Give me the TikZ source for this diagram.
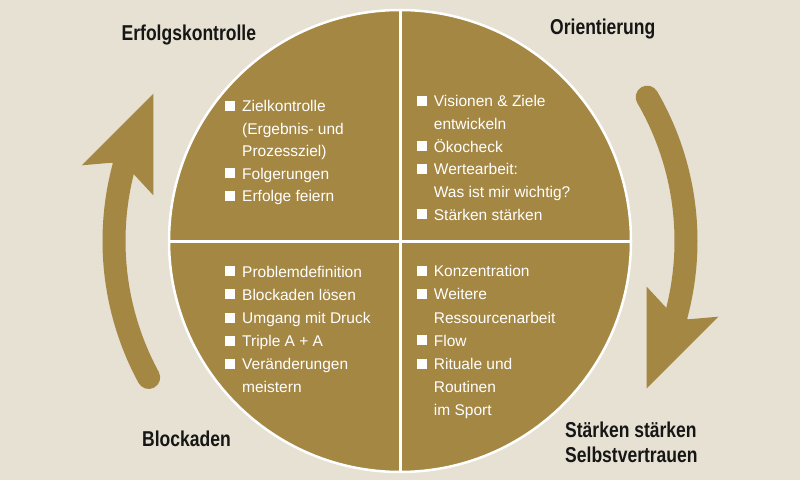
\documentclass[tikz,border=0pt]{standalone}
\usepackage{fontspec}
\setmainfont{Liberation Sans}
\newfontfamily\titlefont[FakeStretch=0.815]{Liberation Sans}
\definecolor{bgbeige}{RGB}{231,225,211}
\definecolor{gold}{RGB}{165,135,68}
\definecolor{titleblack}{RGB}{22,22,22}
\newcommand\bl{\makebox[17pt][l]{\rule[1pt]{10pt}{10pt}}}
\newcommand\ind{\hspace*{17pt}}
\begin{document}
\begin{tikzpicture}[x=1pt,y=1pt,
  titletext/.style={anchor=base west, inner sep=0, text=titleblack,
    font=\titlefont\bfseries\fontsize{21.5}{25}\selectfont, align=left},
  bodytext/.style={anchor=base west, inner sep=0, text=white},
  shaft/.style={draw=gold, line width=23, line cap=round},
  headfill/.style={fill=gold}]
\useasboundingbox (0,0) rectangle (800,480);
\fill[bgbeige] (0,0) rectangle (800,480);

% disc
\node[circle, fill=gold, draw=white, line width=2.5, minimum size=462, inner sep=0] (disc) at (400,239) {};
\draw[white, line width=3] (disc.north) -- (disc.south);
\draw[white, line width=3] (disc.west) -- (disc.east);

% right arrow
\draw[shaft] (disc.center) ++(30.2:286) arc[start angle=30.2, end angle=-17, radius=286];
\fill[headfill] (688.3,160.7) -- (718.3,163.3) -- (646.7,91.7) -- (646.7,193.3) -- (666.7,171.7) -- cycle;

% left arrow (point reflection)
\begin{scope}[rotate around={180:(400,239)}]
\draw[shaft] (disc.center) ++(28.5:286) arc[start angle=28.5, end angle=-17, radius=286];
\fill[headfill] (688.3,160.7) -- (718.3,163.3) -- (646.7,91.7) -- (646.7,193.3) -- (666.7,171.7) -- cycle;
\end{scope}

% titles
\node[titletext] (t1) at (121.5,439.3) {Erfolgskontrolle};
\node[titletext] (t2) at (550,445) {Orientierung};
\node[titletext] (t3) at (142,34) {Blockaden};
\node[titletext] (t4) at (565,43) {\parbox[t]{6cm}{\titlefont\bfseries\fontsize{21.5}{25}\selectfont Stärken stärken\\Selbstvertrauen}};

% quadrant texts
\node[bodytext] (q1) at (225,368.3) {\parbox[t]{6cm}{\fontsize{15.5}{22.5}\selectfont
\bl Zielkontrolle\\
\ind (Ergebnis- und\\
\ind Prozessziel)\\
\bl Folgerungen\\
\bl Erfolge feiern}};

\node[bodytext] (q2) at (416.7,373.3) {\parbox[t]{6cm}{\fontsize{15.5}{22.7}\selectfont
\bl Visionen \& Ziele\\
\ind entwickeln\\
\bl Ökocheck\\
\bl Wertearbeit:\\
\ind Was ist mir wichtig?\\
\bl Stärken stärken}};

\node[bodytext] (q3) at (225,202.7) {\parbox[t]{6cm}{\fontsize{15.5}{23.1}\selectfont
\bl Problemdefinition\\
\bl Blockaden lösen\\
\bl Umgang mit Druck\\
\bl Triple A + A\\
\bl Veränderungen\\
\ind meistern}};

\node[bodytext] (q4) at (416.7,203.3) {\parbox[t]{6cm}{\fontsize{15.5}{23.2}\selectfont
\bl Konzentration\\
\bl Weitere\\
\ind Ressourcenarbeit\\
\bl Flow\\
\bl Rituale und\\
\ind Routinen\\
\ind im Sport}};
\end{tikzpicture}
\end{document}
